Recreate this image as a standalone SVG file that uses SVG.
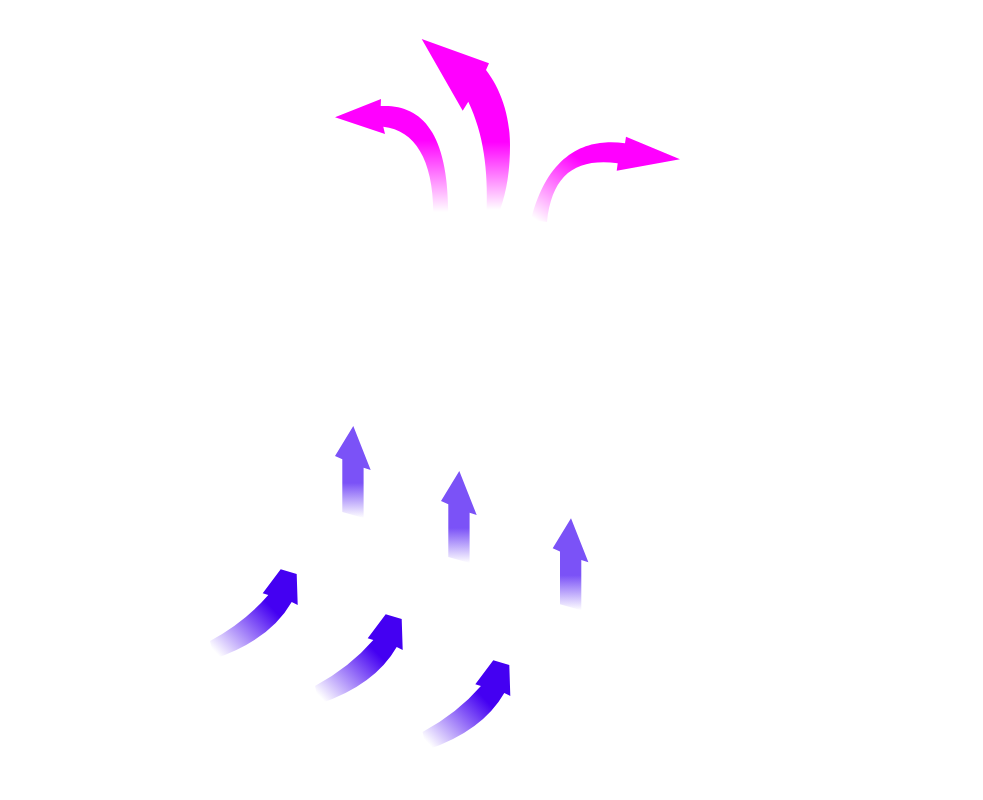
<svg xmlns="http://www.w3.org/2000/svg" width="983" height="800" viewBox="0 0 983 800">
<defs>
<linearGradient id="gUp" x1="0" y1="0" x2="0" y2="1">
<stop offset="0" stop-color="#7B52F7"/>
<stop offset="0.62" stop-color="#7B52F7"/>
<stop offset="1" stop-color="#7B52F7" stop-opacity="0"/>
</linearGradient>
<linearGradient id="gBlue" x1="0" y1="1" x2="0.85" y2="0.15">
<stop offset="0.08" stop-color="#4400F2" stop-opacity="0"/>
<stop offset="0.45" stop-color="#4400F2" stop-opacity="0.55"/>
<stop offset="0.75" stop-color="#4400F2"/>
<stop offset="1" stop-color="#4400F2"/>
</linearGradient>
<linearGradient id="gPinkL" gradientUnits="userSpaceOnUse" x1="0" y1="140" x2="0" y2="212">
<stop offset="0" stop-color="#FF00FF"/>
<stop offset="1" stop-color="#FF00FF" stop-opacity="0"/>
</linearGradient>
<linearGradient id="gPinkM" gradientUnits="userSpaceOnUse" x1="0" y1="142" x2="0" y2="210">
<stop offset="0" stop-color="#FF00FF"/>
<stop offset="1" stop-color="#FF00FF" stop-opacity="0"/>
</linearGradient>
<linearGradient id="gPinkR" gradientUnits="userSpaceOnUse" x1="578" y1="158" x2="536" y2="220">
<stop offset="0" stop-color="#FF00FF"/>
<stop offset="1" stop-color="#FF00FF" stop-opacity="0"/>
</linearGradient>
<path id="upArrow" d="M353.3,426 L370.7,470 L363.6,467.7 L363.6,518 L342.3,512 L342.3,459.3 L335,456 Z"/>
<path id="curveArrow" d="M268.3,595 L262.7,593.3 L280.7,569.3 L296.7,574 L297.7,605 L291.7,602 Q270,640 214,659 L210,641 Q245,622 268.3,595 Z"/>
</defs>
<rect width="983" height="800" fill="#FFFFFF"/>
<g id="pink-arrows">
<g id="pink-left"><path fill="url(#gPinkL)" d="M335,117.3 L381,99 L380.7,106 C420,104 448,130 448.3,212 L433.3,212 C433,160 415,130 383.3,126.7 L385,134 Z"/></g>
<g id="pink-middle"><path fill="url(#gPinkM)" d="M421.7,39 L489,63.3 L486,70 C500,88 510,115 510,145 C510,170 507,190 500,210 L486.7,210 C488,170 484,135 468.3,101.7 L462.7,110.7 Z"/></g>
<g id="pink-right"><path fill="url(#gPinkR)" d="M680,159.3 L626,136.7 L625,143.3 C595,139 550,145 531,220 L547,222 C552,175 575,158 617.7,163.3 L616.7,170.7 Z"/></g>
</g>
<g id="up-arrows">
<g id="up-1"><use href="#upArrow" fill="url(#gUp)"/></g>
<g id="up-2" transform="translate(106,45)"><use href="#upArrow" fill="url(#gUp)"/></g>
<g id="up-3" transform="translate(217.7,92.3)"><use href="#upArrow" fill="url(#gUp)"/></g>
</g>
<g id="curved-arrows">
<g id="curve-1"><use href="#curveArrow" fill="url(#gBlue)"/></g>
<g id="curve-2" transform="translate(105,45)"><use href="#curveArrow" fill="url(#gBlue)"/></g>
<g id="curve-3" transform="translate(212.6,91)"><use href="#curveArrow" fill="url(#gBlue)"/></g>
</g>
</svg>
